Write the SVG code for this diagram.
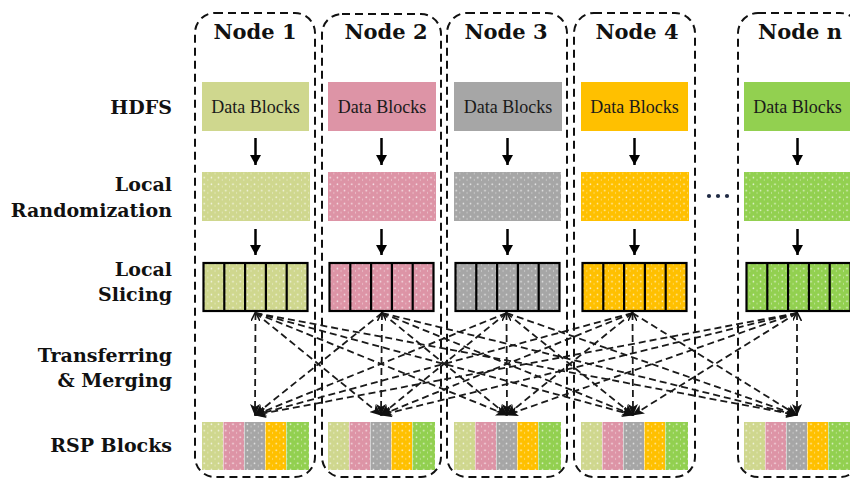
<svg xmlns="http://www.w3.org/2000/svg" xmlns:xlink="http://www.w3.org/1999/xlink" width="850" height="480" viewBox="0 0 850 480">
  <style>
    .frame { fill: none; stroke: #111; stroke-width: 2; stroke-dasharray: 8 5; }
    .title { font-family: "DejaVu Serif", "Liberation Serif", serif; font-weight: bold; font-size: 21px; fill: #111; text-anchor: middle; }
    .label { font-family: "DejaVu Serif", "Liberation Serif", serif; font-weight: bold; font-size: 19px; fill: #111; text-anchor: end; }
    .blocktext { font-family: "Liberation Serif", "DejaVu Serif", serif; font-size: 18px; fill: #1a1a1a; text-anchor: middle; }
    .step { stroke: #000; stroke-width: 2.5; fill: none; }
    .slice { fill: none; stroke: #000; stroke-width: 2.2; }
    .dash { fill: none; stroke: #1a1a1a; stroke-width: 1.8; stroke-dasharray: 7 4; marker-end: url(#tip); }
    .c1 { fill: #cfd78e; }
    .c2 { fill: #dd94a6; }
    .c3 { fill: #a6a6a6; }
    .c4 { fill: #ffc000; }
    .c5 { fill: #92d050; }
  </style>
  <defs>
    <pattern id="speckle" width="7.2" height="6.5" patternUnits="userSpaceOnUse">
      <circle cx="2.2" cy="2.2" r="0.8" fill="#fff" opacity="0.85"/>
      <rect x="5.6" y="3.6" width="0.7" height="1.8" fill="#fff" opacity="0.55"/>
    </pattern>
    <marker id="down" markerUnits="userSpaceOnUse" markerWidth="11" markerHeight="11" refX="10" refY="5.5" orient="auto">
      <path d="M0,0 L10,5.5 L0,11 z" fill="#000"/>
    </marker>
    <marker id="tip" markerUnits="userSpaceOnUse" markerWidth="12" markerHeight="10" refX="11" refY="5" orient="auto">
      <path d="M0,0 L12,5 L0,10 L3,5 z" fill="#111"/>
    </marker>
    <marker id="tail" markerUnits="userSpaceOnUse" markerWidth="9" markerHeight="9" refX="1" refY="4.5" orient="auto">
      <path d="M9,0 L0,4.5 L9,9" fill="none" stroke="#111" stroke-width="1.6"/>
    </marker>
    <!-- merged block: one strip from every node -->
    <g id="rsp">
      <rect x="0" y="0" width="21" height="48" class="c1"/>
      <rect x="21.5" y="0" width="20.5" height="48" class="c2"/>
      <rect x="42.5" y="0" width="20.5" height="48" class="c3"/>
      <rect x="63.5" y="0" width="20.5" height="48" class="c4"/>
      <rect x="84.5" y="0" width="22.5" height="48" class="c5"/>
      <rect x="0" y="0" width="107" height="48" fill="url(#speckle)"/>
    </g>
    <!-- five slice outlines -->
    <g id="slices">
      <rect x="1.5" y="263" width="104" height="48" class="slice"/>
      <line x1="22.3" y1="263" x2="22.3" y2="311" class="slice"/>
      <line x1="43.1" y1="263" x2="43.1" y2="311" class="slice"/>
      <line x1="63.9" y1="263" x2="63.9" y2="311" class="slice"/>
      <line x1="84.7" y1="263" x2="84.7" y2="311" class="slice"/>
    </g>
    <!-- arrows between the local stages -->
    <g id="steps">
      <line x1="53.5" y1="138" x2="53.5" y2="165" class="step" marker-end="url(#down)"/>
      <line x1="53.5" y1="229" x2="53.5" y2="255" class="step" marker-end="url(#down)"/>
    </g>
  </defs>

  <!-- stage labels -->
  <g id="labels">
    <text class="label" x="172" y="114">HDFS</text>
    <text class="label" x="172" y="191">Local</text>
    <text class="label" x="172" y="217">Randomization</text>
    <text class="label" x="172" y="276">Local</text>
    <text class="label" x="172" y="301">Slicing</text>
    <text class="label" x="172" y="362">Transferring</text>
    <text class="label" x="172" y="387">&amp; Merging</text>
    <text class="label" x="172" y="452">RSP Blocks</text>
  </g>

  <g id="node-1" transform="translate(202,0)">
    <rect class="frame" x="-7" y="13" width="120" height="464" rx="20"/>
    <text class="title" x="53" y="39">Node 1</text>
    <rect class="c1" x="0" y="82" width="107" height="49"/>
    <text class="blocktext" x="53.5" y="113">Data Blocks</text>
    <use xlink:href="#steps"/>
    <rect class="c1" x="0" y="172" width="108" height="49"/>
    <rect x="0" y="172" width="108" height="49" fill="url(#speckle)"/>
    <rect class="c1" x="1.5" y="263" width="104" height="48"/>
    <rect x="1.5" y="263" width="104" height="48" fill="url(#speckle)"/>
    <use xlink:href="#slices"/>
    <use xlink:href="#rsp" y="422"/>
  </g>

  <g id="node-2" transform="translate(328,0)">
    <rect class="frame" x="-6" y="14" width="119" height="463" rx="20"/>
    <text class="title" x="58" y="39">Node 2</text>
    <rect class="c2" x="0" y="82" width="108" height="49"/>
    <text class="blocktext" x="54" y="113">Data Blocks</text>
    <use xlink:href="#steps"/>
    <rect class="c2" x="0" y="172" width="108" height="49"/>
    <rect x="0" y="172" width="108" height="49" fill="url(#speckle)"/>
    <rect class="c2" x="1.5" y="263" width="104" height="48"/>
    <rect x="1.5" y="263" width="104" height="48" fill="url(#speckle)"/>
    <use xlink:href="#slices"/>
    <use xlink:href="#rsp" y="422"/>
  </g>

  <g id="node-3" transform="translate(454,0)">
    <rect class="frame" x="-7" y="13" width="120" height="464" rx="20"/>
    <text class="title" x="52" y="39">Node 3</text>
    <rect class="c3" x="0" y="82" width="108" height="49"/>
    <text class="blocktext" x="54" y="113">Data Blocks</text>
    <use xlink:href="#steps"/>
    <rect class="c3" x="0" y="172" width="107" height="49"/>
    <rect x="0" y="172" width="107" height="49" fill="url(#speckle)"/>
    <rect class="c3" x="1.5" y="263" width="104" height="48"/>
    <rect x="1.5" y="263" width="104" height="48" fill="url(#speckle)"/>
    <use xlink:href="#slices"/>
    <use xlink:href="#rsp" y="422"/>
  </g>

  <g id="node-4" transform="translate(581,0)">
    <rect class="frame" x="-7" y="13" width="121" height="464" rx="20"/>
    <text class="title" x="56" y="39">Node 4</text>
    <rect class="c4" x="0" y="82" width="107" height="49"/>
    <text class="blocktext" x="53.5" y="113">Data Blocks</text>
    <use xlink:href="#steps"/>
    <rect class="c4" x="0" y="172" width="108" height="49"/>
    <rect x="0" y="172" width="108" height="49" fill="url(#speckle)"/>
    <rect class="c4" x="1.5" y="263" width="104" height="48"/>
    <rect x="1.5" y="263" width="104" height="48" fill="url(#speckle)"/>
    <use xlink:href="#slices"/>
    <use xlink:href="#rsp" y="422"/>
  </g>

  <!-- gap between node 4 and node n -->
  <g id="ellipsis" fill="#1f2a44">
    <circle cx="709" cy="196" r="2.1"/>
    <circle cx="718" cy="196" r="2.1"/>
    <circle cx="727" cy="196" r="2.1"/>
  </g>

  <g id="node-n" transform="translate(744,0)">
    <rect class="frame" x="-6" y="13" width="122" height="464" rx="20"/>
    <text class="title" x="56" y="39">Node n</text>
    <rect class="c5" x="0" y="82" width="107" height="49"/>
    <text class="blocktext" x="53.5" y="113">Data Blocks</text>
    <use xlink:href="#steps"/>
    <rect class="c5" x="0" y="172" width="107" height="49"/>
    <rect x="0" y="172" width="107" height="49" fill="url(#speckle)"/>
    <rect class="c5" x="2.5" y="263" width="104" height="48"/>
    <rect x="2.5" y="263" width="104" height="48" fill="url(#speckle)"/>
    <use xlink:href="#slices" x="1"/>
    <use xlink:href="#rsp" y="422"/>
  </g>

  <!-- every slice set is shipped to every node -->
  <g id="connectors">
    <line class="dash" x1="255.5" y1="313" x2="255" y2="415" marker-start="url(#tail)"/>
    <line class="dash" x1="255.5" y1="313" x2="381" y2="415"/>
    <line class="dash" x1="255.5" y1="313" x2="507" y2="415"/>
    <line class="dash" x1="255.5" y1="313" x2="633" y2="415"/>
    <line class="dash" x1="255.5" y1="313" x2="797" y2="415"/>

    <line class="dash" x1="382" y1="313" x2="255" y2="415"/>
    <line class="dash" x1="382" y1="313" x2="381" y2="415" marker-start="url(#tail)"/>
    <line class="dash" x1="382" y1="313" x2="507" y2="415"/>
    <line class="dash" x1="382" y1="313" x2="633" y2="415"/>
    <line class="dash" x1="382" y1="313" x2="797" y2="415"/>

    <line class="dash" x1="506.5" y1="313" x2="255" y2="415"/>
    <line class="dash" x1="506.5" y1="313" x2="381" y2="415"/>
    <line class="dash" x1="506.5" y1="313" x2="507" y2="415" marker-start="url(#tail)"/>
    <line class="dash" x1="506.5" y1="313" x2="633" y2="415"/>
    <line class="dash" x1="506.5" y1="313" x2="797" y2="415"/>

    <line class="dash" x1="632.5" y1="313" x2="255" y2="415"/>
    <line class="dash" x1="632.5" y1="313" x2="381" y2="415"/>
    <line class="dash" x1="632.5" y1="313" x2="507" y2="415"/>
    <line class="dash" x1="632.5" y1="313" x2="633" y2="415" marker-start="url(#tail)"/>
    <line class="dash" x1="632.5" y1="313" x2="797" y2="415"/>

    <line class="dash" x1="797" y1="313" x2="255" y2="415"/>
    <line class="dash" x1="797" y1="313" x2="381" y2="415"/>
    <line class="dash" x1="797" y1="313" x2="507" y2="415"/>
    <line class="dash" x1="797" y1="313" x2="633" y2="415"/>
    <line class="dash" x1="797" y1="313" x2="797" y2="415" marker-start="url(#tail)"/>
  </g>
</svg>
